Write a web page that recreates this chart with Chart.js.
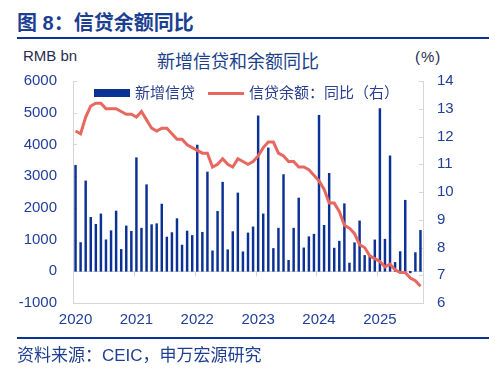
<!DOCTYPE html>
<html>
<head>
<meta charset="utf-8">
<script src="https://cdn.jsdelivr.net/npm/chart.js@4.4.1/dist/chart.umd.min.js"></script>
<style>
  html, body { margin: 0; padding: 0; background: #fff; }
  body { width: 501px; height: 379px; position: relative; overflow: hidden;
         font-family: "Liberation Sans", Arial, "Noto Sans CJK SC", sans-serif; }
  .txt { position: absolute; white-space: nowrap; }
  .head { left: 17px; top: 10px; font-size: 20px; line-height: 26px; font-weight: bold; color: #1b3f91; }
  .rule { position: absolute; left: 17px; width: 472px; height: 2px; background: #0a3595; }
  .unit { font-size: 15px; line-height: 18px; color: #1f2d50; }
  .ctitle { left: 148px; top: 50px; width: 180px; text-align: center; font-size: 18px; line-height: 24px; color: #203f8a; }
  .src { left: 17px; top: 345px; font-size: 17px; line-height: 22px; color: #1f3f8f; }
  #wrap { position: absolute; left: 0; top: 40px; width: 501px; height: 301px; }
  #legend { position: absolute; left: 94px; top: 83px; display: flex; align-items: center;
            font-size: 15px; line-height: 20px; color: #2a3f8f; }
  #legend .item { display: flex; align-items: center; margin-right: 13px; }
  #legend .mark { display: inline-block; width: 36px; margin-right: 5px; }
</style>
</head>
<body>
<div class="txt head">图 8：信贷余额同比</div>
<div class="rule" style="top:37px"></div>
<div class="txt unit" style="left:23px;top:47px">RMB bn</div>
<div class="txt unit" style="left:415px;top:48px;letter-spacing:1px">(%)</div>
<div class="txt ctitle">新增信贷和余额同比</div>
<div id="wrap"><canvas id="c"></canvas></div>
<div id="legend"></div>
<div class="rule" style="top:337px"></div>
<div class="txt src">资料来源：CEIC，申万宏源研究</div>

<script>
const months = [
  '2020-01','2020-02','2020-03','2020-04','2020-05','2020-06','2020-07','2020-08','2020-09','2020-10','2020-11','2020-12',
  '2021-01','2021-02','2021-03','2021-04','2021-05','2021-06','2021-07','2021-08','2021-09','2021-10','2021-11','2021-12',
  '2022-01','2022-02','2022-03','2022-04','2022-05','2022-06','2022-07','2022-08','2022-09','2022-10','2022-11','2022-12',
  '2023-01','2023-02','2023-03','2023-04','2023-05','2023-06','2023-07','2023-08','2023-09','2023-10','2023-11','2023-12',
  '2024-01','2024-02','2024-03','2024-04','2024-05','2024-06','2024-07','2024-08','2024-09','2024-10','2024-11','2024-12',
  '2025-01','2025-02','2025-03','2025-04','2025-05','2025-06','2025-07','2025-08','2025-09'
];

// 新增信贷, RMB bn
const newLoans = [
  3340, 906, 2850, 1700, 1480, 1810, 992, 1280, 1900, 690, 1430, 1260,
  3580, 1360, 2730, 1470, 1500, 2120, 1080, 1220, 1660, 826, 1270, 1130,
  3980, 1230, 3130, 645, 1890, 2810, 679, 1250, 2470, 615, 1210, 1400,
  4900, 1810, 3890, 719, 1360, 3050, 346, 1360, 2310, 738, 1090, 1170,
  4920, 1450, 3090, 730, 950, 2130, 260, 900, 1590, 500, 460, 990,
  5130, 1010, 3640, 280, 620, 2240, -50, 590, 1290
];

// 信贷余额同比, %
const loanGrowth = [
  12.2, 12.1, 12.7, 13.1, 13.2, 13.2, 13.0, 13.0, 13.0, 12.9, 12.8, 12.8,
  12.7, 12.9, 12.6, 12.3, 12.2, 12.3, 12.3, 12.1, 11.9, 11.9, 11.7, 11.6,
  11.5, 11.4, 11.4, 10.9, 11.0, 11.2, 11.0, 10.9, 11.2, 11.1, 11.0, 11.1,
  11.3, 11.6, 11.8, 11.8, 11.4, 11.3, 11.1, 11.1, 10.9, 10.9, 10.8, 10.6,
  10.4, 10.1, 9.6, 9.6, 9.3, 8.8, 8.7, 8.5, 8.1, 8.0, 7.7, 7.6,
  7.5, 7.3, 7.4, 7.2, 7.1, 7.1, 6.9, 6.8, 6.6
];

const blue = '#0b3194';
const red = '#e8675f';
const labelBlue = '#1f3f99';
const axisGrey = '#d6d6d6';

Chart.defaults.font.family = '"Liberation Sans", Arial, "Noto Sans CJK SC", sans-serif';

// zero line, year ticks on it, and short inward ticks on both value axes
const axisMarks = {
  id: 'axisMarks',
  beforeDatasetsDraw(chart) {
    const { ctx, chartArea: a, scales } = chart;
    const x = scales.x, y = scales.y, y1 = scales.y1;
    ctx.save();
    ctx.strokeStyle = axisGrey;
    ctx.lineWidth = 1;
    ctx.beginPath();
    const y0 = Math.round(y.getPixelForValue(0)) + 0.5;
    ctx.moveTo(a.left, y0);
    ctx.lineTo(a.right, y0);
    const step = x.getPixelForValue(1) - x.getPixelForValue(0);
    months.forEach((m, i) => {
      if (m.endsWith('-01')) {
        const px = Math.round(x.getPixelForValue(i) - step / 2) + 0.5;
        ctx.moveTo(px, y0);
        ctx.lineTo(px, y0 + 5);
      }
    });
    y.ticks.forEach(t => {
      const py = Math.round(y.getPixelForValue(t.value)) + 0.5;
      ctx.moveTo(a.left, py);
      ctx.lineTo(a.left + 4, py);
    });
    y1.ticks.forEach(t => {
      const py = Math.round(y1.getPixelForValue(t.value)) + 0.5;
      ctx.moveTo(a.right, py);
      ctx.lineTo(a.right - 4, py);
    });
    ctx.stroke();
    ctx.restore();
  }
};

// legend as html, built from the datasets
const htmlLegend = {
  id: 'htmlLegend',
  afterUpdate(chart) {
    const box = document.getElementById('legend');
    box.innerHTML = '';
    chart.data.datasets.forEach(ds => {
      const item = document.createElement('span');
      item.className = 'item';
      const mark = document.createElement('span');
      mark.className = 'mark';
      if (ds.type === 'line') {
        mark.style.height = ds.borderWidth + 'px';
        mark.style.background = ds.borderColor;
      } else {
        mark.style.height = '8px';
        mark.style.background = ds.backgroundColor;
      }
      item.appendChild(mark);
      item.appendChild(document.createTextNode(ds.label));
      box.appendChild(item);
    });
  }
};

new Chart(document.getElementById('c'), {
  type: 'bar',
  data: {
    labels: months,
    datasets: [
      {
        type: 'bar',
        label: '新增信贷',
        data: newLoans,
        yAxisID: 'y',
        backgroundColor: blue,
        borderWidth: 0,
        barThickness: 1.8,
        order: 2
      },
      {
        type: 'line',
        label: '信贷余额：同比（右）',
        data: loanGrowth,
        yAxisID: 'y1',
        borderColor: red,
        backgroundColor: red,
        borderWidth: 3,
        pointRadius: 0,
        tension: 0,
        order: 1
      }
    ]
  },
  options: {
    responsive: true,
    maintainAspectRatio: false,
    animation: false,
    layout: { padding: { top: 41, bottom: 4, left: 0, right: 0 } },
    plugins: {
      title: { display: false },
      tooltip: { enabled: false },
      legend: { display: false }
    },
    scales: {
      x: {
        type: 'category',
        offset: true,
        grid: { display: false, drawTicks: false },
        border: { display: true, color: axisGrey },
        ticks: {
          autoSkip: false,
          maxRotation: 0,
          padding: 8,
          color: labelBlue,
          font: { size: 15 },
          callback: (v, i) => months[i].endsWith('-01') ? months[i].slice(0, 4) : null
        }
      },
      y: {
        position: 'left',
        min: -1000,
        max: 6000,
        grid: { display: false, drawTicks: false },
        border: { display: true, color: axisGrey },
        ticks: { stepSize: 1000, padding: 16, color: labelBlue, font: { size: 15 }, callback: v => String(v) },
        afterFit: s => { s.width = 73; }
      },
      y1: {
        position: 'right',
        min: 6,
        max: 14,
        grid: { display: false, drawTicks: false },
        border: { display: true, color: axisGrey },
        ticks: { stepSize: 1, padding: 14, color: labelBlue, font: { size: 15 }, callback: v => String(v) },
        afterFit: s => { s.width = 78; }
      }
    }
  },
  plugins: [axisMarks, htmlLegend]
});
</script>
</body>
</html>
